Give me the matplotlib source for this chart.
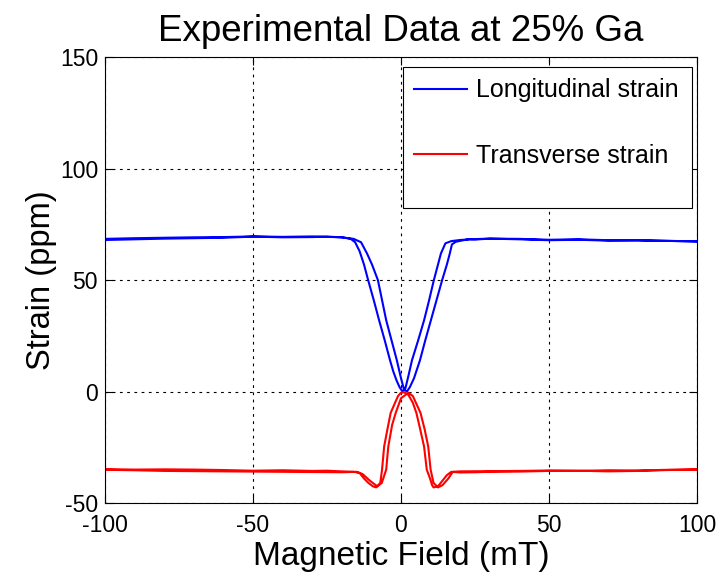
import matplotlib
matplotlib.use("Agg")
import matplotlib.pyplot as plt
from matplotlib.patches import Rectangle

plt.rcParams['font.family'] = ['Liberation Sans', 'DejaVu Sans']
plt.rcParams['axes.unicode_minus'] = False

# Longitudinal strain: field sweep down (+100 -> -100)
long_down_x = [100, 90, 80, 70, 60, 50, 40, 30, 25, 20, 17, 15, 13.5, 12.3, 11.1, 9.5, 7.8, 5.8, 3.7,
               2.5, 1.5, 0.5, -0.5, -1.5, -2.6, -3.7, -5.5, -7.4, -9.2, -11.1, -12.5, -14, -15.5, -17,
               -20, -25, -30, -40, -50, -60, -70, -80, -90, -100]
long_down_y = [67.3, 67.6, 67.9, 67.7, 68.1, 67.9, 68.3, 68.6, 68.4, 68.0, 67.5, 66.5, 62, 56, 50, 41,
               32, 23, 14, 7, 1.5, 0, 2, 5, 9, 14, 23, 32, 41, 50, 57, 63, 67, 68.5,
               69.2, 69.5, 69.3, 69.2, 69.5, 69.0, 68.8, 68.6, 68.3, 68.0]
# Longitudinal strain: field sweep up (-100 -> +100)
long_up_x = [-100, -90, -80, -70, -60, -50, -40, -30, -25, -20, -16, -13.5, -11.5, -9.8, -7.8, -6.4, -5,
             -3.2, -1.4, 0, 1, 2, 3, 4.4, 5.4, 6.4, 8.2, 10.1, 12, 13.9, 15.5, 16.5, 17.2, 18.5, 23,
             25, 30, 40, 50, 60, 70, 80, 90, 100]
long_up_y = [68.5, 68.8, 69.0, 69.2, 69.3, 69.6, 69.4, 69.6, 69.4, 69.2, 68.5, 67, 62, 57, 50, 41, 32,
             23, 14, 6, 1, 0, 2, 6, 10, 14, 23, 32, 41, 50, 57, 62, 66, 67.2, 68.4,
             68.2, 68.6, 68.5, 68.1, 68.3, 67.9, 67.8, 67.6, 67.4]

# Transverse strain: field sweep down (+100 -> -100)
trans_down_x = [100, 90, 80, 70, 60, 50, 40, 30, 25, 20, 17, 15.5, 14, 12.5, 11, 10.5, 9.8, 8.7, 7.8,
                6.5, 5.2, 4, 2.5, 1, 0, -1, -2, -3.5, -4.6, -5.7, -6.4, -7, -8.4, -9.5, -11, -12.5,
                -14, -16, -20, -25, -30, -40, -50, -60, -70, -80, -90, -100]
trans_down_y = [-35.0, -35.2, -35.6, -35.8, -35.5, -35.6, -35.9, -36.0, -36.2, -36.3, -36.0, -37.5, -40,
                -42.5, -43, -42, -39, -35, -24.7, -17, -9.6, -5, -1.5, -0.3, -0.5, -2, -5, -9.6, -17,
                -24.7, -35, -41, -43, -42.5, -41, -39, -36.5, -36.0, -35.8, -35.5, -35.6, -35.3, -35.5,
                -35.2, -35.0, -34.9, -35.0, -34.8]
# Transverse strain: field sweep up (-100 -> +100)
trans_up_x = [-100, -90, -80, -70, -60, -50, -40, -30, -20, -15, -13, -10.5, -8, -6.5, -5, -4.3, -3,
              -1.8, 0, 2.5, 4, 6.6, 8, 9.2, 10, 11, 12.5, 14, 16, 17.5, 20, 30, 40, 50, 60, 70, 80,
              90, 100]
trans_up_y = [-35.1, -35.3, -35.6, -35.7, -35.8, -35.9, -36.0, -36.1, -36.2, -36.0, -37, -40, -42.5, -41,
              -35, -24.7, -15, -9.6, -3, -0.5, -2, -9.6, -17, -24.7, -35, -41, -43, -42, -39, -36,
              -35.8, -35.7, -35.6, -35.4, -35.6, -35.3, -35.4, -35.1, -34.9]

series_labels = ['Longitudinal strain', 'Transverse strain']
x_ticks = [-100, -50, 0, 50, 100]
y_ticks = [-50, 0, 50, 100, 150]

fig = plt.figure(figsize=(7.22, 5.76), dpi=100)
ax = fig.add_axes([0.1454, 0.1267, 0.82, 0.774])

lw = 1.5
l1, = ax.plot(long_down_x + long_up_x, long_down_y + long_up_y, color='#0000ff', lw=lw,
              label=series_labels[0])
l2, = ax.plot(trans_down_x + trans_up_x, trans_down_y + trans_up_y, color='#ff0000', lw=lw,
              label=series_labels[1])

ax.set_xlim(-100, 100)
ax.set_ylim(-50, 150)
ax.set_xticks(x_ticks)
ax.set_yticks(y_ticks)
ax.grid(True, color='black', linestyle=(0, (2.5, 4)), linewidth=0.8)
ax.tick_params(direction='in', length=6, width=0.8, top=True, right=True, labelsize=16.5)
ax.tick_params(axis='x', pad=8)
ax.tick_params(axis='y', pad=5)
for s in ax.spines.values():
    s.set_linewidth(0.8)

ax.set_xlabel('Magnetic Field (mT)', fontsize=24, labelpad=3)
ax.set_ylabel('Strain (ppm)', fontsize=23.5, labelpad=2)
ax.set_title('Experimental Data at 25% Ga', fontsize=26.5, pad=12)

# legend box
ax.add_patch(Rectangle((0.503, 0.661), 0.9916 - 0.503, 0.9776 - 0.661, transform=ax.transAxes,
                       facecolor='white', edgecolor='black', linewidth=0.8, zorder=4))
leg = ax.legend(handles=[l1, l2], loc='upper left', bbox_to_anchor=(0.503, 0.9776), frameon=False,
                fontsize=18, handlelength=2.1, handletextpad=0.36, labelspacing=1.65,
                borderpad=0.45, borderaxespad=0)
leg.set_zorder(5)

fig.savefig('out.png', dpi=100)
